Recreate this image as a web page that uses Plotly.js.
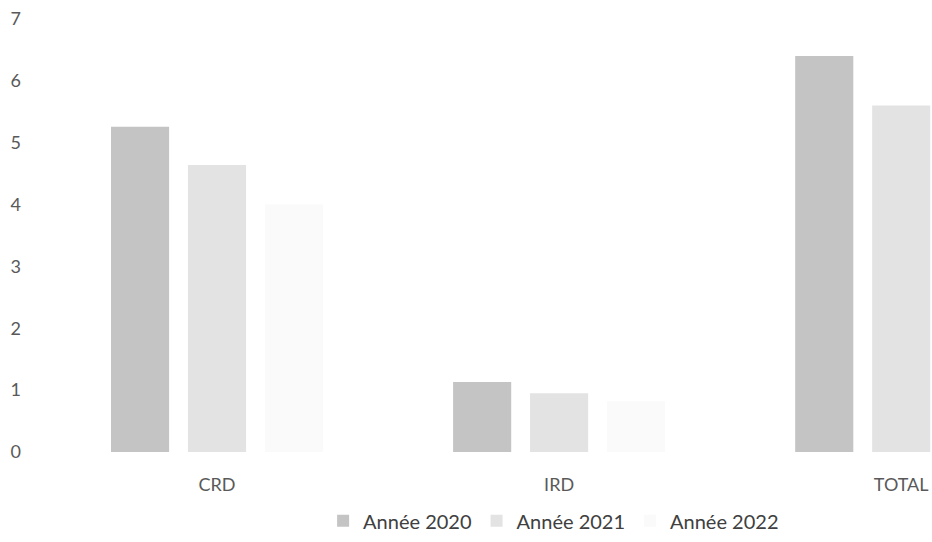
<!DOCTYPE html>
<html>
<head>
<meta charset="utf-8">
<script src="https://cdn.plot.ly/plotly-3.0.1.min.js"></script>
<style>html,body{margin:0;padding:0;background:#fff;}#chart{width:932px;height:542px;}</style>
</head>
<body>
<div id="chart"></div>
<script>
const categories = ["CRD", "IRD", "TOTAL"];
const seriesNames = ["Année 2020", "Année 2021", "Année 2022"];
const values2020 = [5.26, 1.13, 6.40];
const values2021 = [4.64, 0.95, 5.60];
const values2022 = [4.00, 0.82, 4.82];
const yTicks = [0, 1, 2, 3, 4, 5, 6, 7];

const colors = ["#c4c4c4", "#e3e3e3", "#fafafa"];
const allValues = [values2020, values2021, values2022];

const traces = allValues.map((vals, i) => ({
  type: "bar",
  name: seriesNames[i],
  x: categories,
  y: vals,
  marker: { color: colors[i] },
  hoverinfo: "none"
}));

const layout = {
  width: 932,
  height: 542,
  margin: { l: 60, r: 0, t: 19, b: 90 },
  paper_bgcolor: "#ffffff",
  plot_bgcolor: "#ffffff",
  barmode: "group",
  bargap: 0.325,
  bargroupgap: 0.245,
  font: { family: "Lato, sans-serif", color: "#595959", size: 18 },
  xaxis: {
    range: [-0.459, 2.09],
    showgrid: false,
    zeroline: false,
    showline: false,
    ticks: "",
    ticklabelstandoff: 20,
    tickfont: { size: 18, color: "#595959" }
  },
  yaxis: {
    range: [0, 7],
    tickvals: yTicks,
    ticktext: yTicks.map(String),
    showgrid: false,
    zeroline: false,
    showline: false,
    ticks: "",
    ticklabelstandoff: 38,
    tickfont: { size: 18, color: "#595959" }
  },
  showlegend: true,
  legend: {
    orientation: "h",
    xref: "container",
    yref: "container",
    x: 0.594,
    xanchor: "center",
    y: 0.039,
    yanchor: "middle",
    font: { size: 20, color: "#404040" },
    itemwidth: 30,
    tracegroupgap: 0
  }
};

Plotly.newPlot("chart", traces, layout, { staticPlot: true, displayModeBar: false });
</script>
</body>
</html>
